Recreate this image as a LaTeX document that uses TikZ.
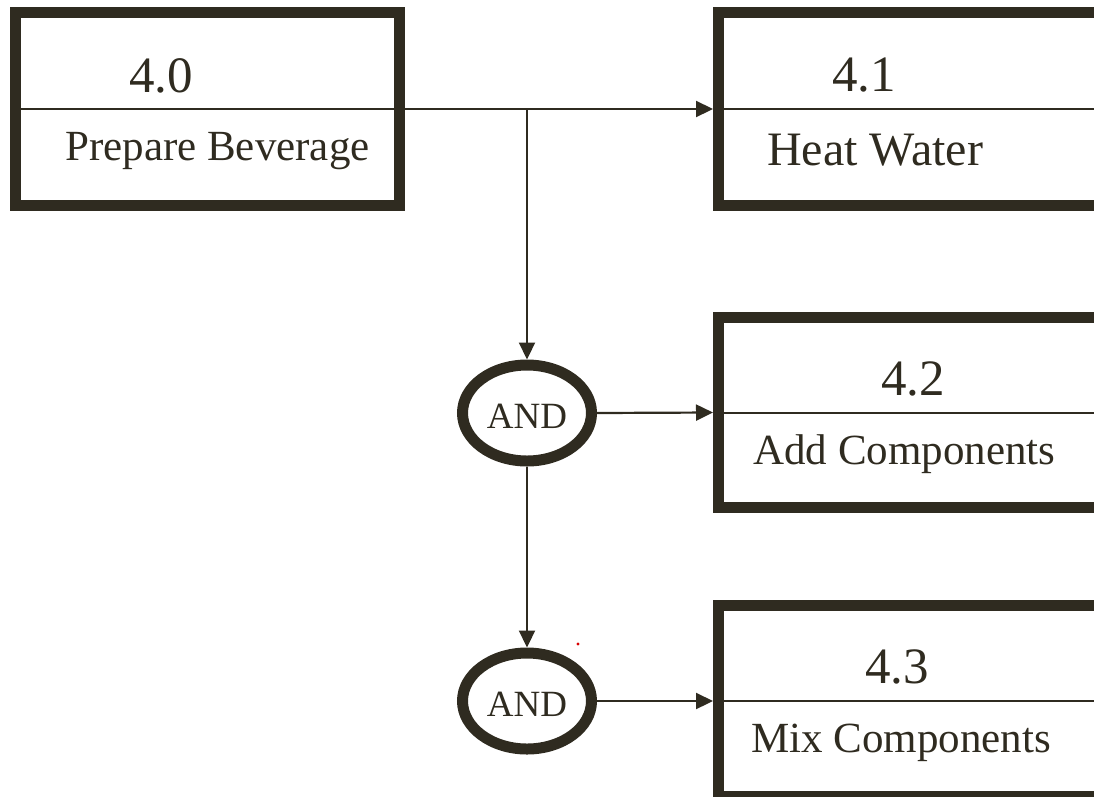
\documentclass[tikz,border=0pt]{standalone}
\usepackage{fontspec}
\setmainfont{Liberation Serif}
\usetikzlibrary{shapes.geometric,arrows.meta}
\definecolor{ink}{RGB}{47,43,32}
\begin{document}
\begin{tikzpicture}[x=1pt,y=-1pt,
  box/.style={draw=ink,line width=11pt,rectangle,inner sep=0pt},
  gate/.style={draw=ink,line width=11pt,ellipse,inner sep=0pt,minimum width=129pt,minimum height=96pt,text=ink,font=\fontsize{37}{40}\selectfont,text height=30pt,text depth=0pt},
  num/.style={anchor=base west,inner sep=0pt,text=ink,font=\fontsize{51}{60}\selectfont},
  lbl/.style={anchor=base west,inner sep=0pt,text=ink,font=\fontsize{43}{50}\selectfont},
  divider/.style={draw=ink,line width=2pt},
  flow/.style={draw=ink,line width=2.2pt,-{Triangle[length=17pt,width=16pt]}}]
\useasboundingbox (0,0) rectangle (1094,796);
\clip (0,0) rectangle (1094,796);
% boxes
\node[box,minimum width=383.5pt,minimum height=193pt] (b40) at (207.25,109) {};
\node[box,minimum width=387.5pt,minimum height=193pt] (b41) at (912.25,109) {};
\node[box,minimum width=387.5pt,minimum height=190pt] (b42) at (912.25,412.5) {};
\node[box,minimum width=387.5pt,minimum height=191pt] (b43) at (912.25,701) {};
% dividers
\draw[divider] (b40.west) -- (b40.east);
\draw[divider] (b41.west) -- (b41.east);
\draw[divider] (b42.west) -- (b42.east);
\draw[divider] (b43.west) -- (b43.east);
% texts
\node[num] (t40) at (129,92) {4.0};
\node[lbl] (l40) at (65,160) {Prepare Beverage};
\node[num] (t41) at (832,91) {4.1};
\node[lbl,font=\fontsize{48}{56}\selectfont] (l41) at (767,165) {Heat Water};
\node[num] (t42) at (881,395) {4.2};
\node[lbl] (l42) at (753,464) {Add Components};
\node[num] (t43) at (865,683) {4.3};
\node[lbl] (l43) at (751,752) {Mix Components};
% gates
\node[gate] (a1) at (527,413) {AND};
\node[gate] (a2) at (527,701) {AND};
% connectors
\coordinate (br) at (a1 |- b40);
\draw[flow] (b40.east) -- (b41.west);
\draw[flow] (br) -- (a1.north);
\draw[flow] (a1.east) -- (b42.west);
\draw[flow] (a1.south) -- (a2.north);
\draw[flow] (a2.east) -- (b43.west);
% stray mark
\fill[red!85!black] (578,644) circle (1.6);
\end{tikzpicture}
\end{document}
